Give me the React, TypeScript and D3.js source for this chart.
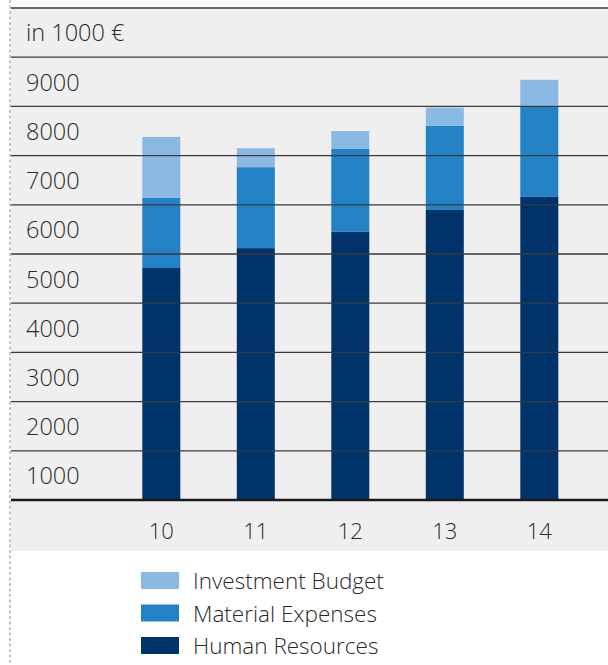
import React from "react";
import * as d3 from "d3";

const years = ["10", "11", "12", "13", "14"];
const humanResources = [4715, 5120, 5450, 5895, 6160];
const materialExpenses = [1425, 1645, 1685, 1710, 1850];
const investmentBudget = [1240, 385, 365, 370, 530];
const yTicks = [1000, 2000, 3000, 4000, 5000, 6000, 7000, 8000, 9000];
const gridValues = [1000, 2000, 3000, 4000, 5000, 6000, 7000, 8000, 9000, 10000];
const unitLabel = "in 1000 €";
const seriesNames = ["Investment Budget", "Material Expenses", "Human Resources"];
const colors: Record<string, string> = {
  "Human Resources": "#003369",
  "Material Expenses": "#2382c6",
  "Investment Budget": "#8ab9e4",
};

const W = 608;
const H = 665;
const FONT = "'Open Sans', 'Noto Sans', sans-serif";

export default function App() {
  const y = d3.scaleLinear().domain([0, 10000]).range([500, 8]);
  const x = d3.scalePoint<string>().domain(years).range([161.3, 539.3]);
  const bw = 38;
  const step = y(0) - y(1000);

  const rows = years.map((yr, i) => ({
    year: yr,
    "Human Resources": humanResources[i],
    "Material Expenses": materialExpenses[i],
    "Investment Budget": investmentBudget[i],
  }));
  const stack = d3
    .stack<any>()
    .keys(["Human Resources", "Material Expenses", "Investment Budget"]);
  const series = stack(rows);

  return (
    <svg
      width={W}
      height={H}
      style={{ position: "absolute", left: 0, top: 0, display: "block" }}
      fontFamily={FONT}
      fontWeight={340}
    >
      <rect x={0} y={0} width={W} height={H} fill="#ffffff" />
      <rect x={11} y={8} width={W - 11} height={551 - 8} fill="#efefef" />
      <line
        x1={10}
        x2={10}
        y1={0}
        y2={H}
        stroke="#c4c4c4"
        strokeWidth={2}
        strokeDasharray="3 2.5"
      />
      {series.map((s) =>
        s.map((d, i) => (
          <rect
            key={s.key + i}
            x={(x(years[i]) as number) - bw / 2}
            y={y(d[1])}
            width={bw}
            height={y(d[0]) - y(d[1])}
            fill={colors[s.key]}
          />
        ))
      )}
      {gridValues.map((v) => (
        <line
          key={v}
          x1={11}
          x2={W}
          y1={y(v)}
          y2={y(v)}
          stroke="#3a3a3a"
          strokeWidth={1.3}
        />
      ))}
      <line x1={11} x2={W} y1={y(0)} y2={y(0)} stroke="#1a1a1a" strokeWidth={2.4} />
      <text
        x={26}
        y={y(10000) + step / 2 - 1}
        dominantBaseline="central"
        fontSize={23.5}
        fill="#2a2a2a"
      >
        {unitLabel}
      </text>
      {yTicks.map((v) => (
        <text
          key={v}
          x={26}
          y={y(v) + step / 2}
          dominantBaseline="central"
          fontSize={23.5}
          fill="#2a2a2a"
        >
          {v}
        </text>
      ))}
      {years.map((yr) => (
        <text
          key={yr}
          x={x(yr) as number}
          y={530}
          textAnchor="middle"
          dominantBaseline="central"
          fontSize={22}
          fill="#2a2a2a"
        >
          {yr}
        </text>
      ))}
      {seriesNames.map((n, i) => (
        <g key={n} transform={`translate(141, ${572 + i * 32.5})`}>
          <rect x={0} y={0} width={38} height={17} fill={colors[n]} />
          <text x={52} y={8.5} dominantBaseline="central" fontSize={22.5} fill="#2a2a2a">
            {n}
          </text>
        </g>
      ))}
    </svg>
  );
}
